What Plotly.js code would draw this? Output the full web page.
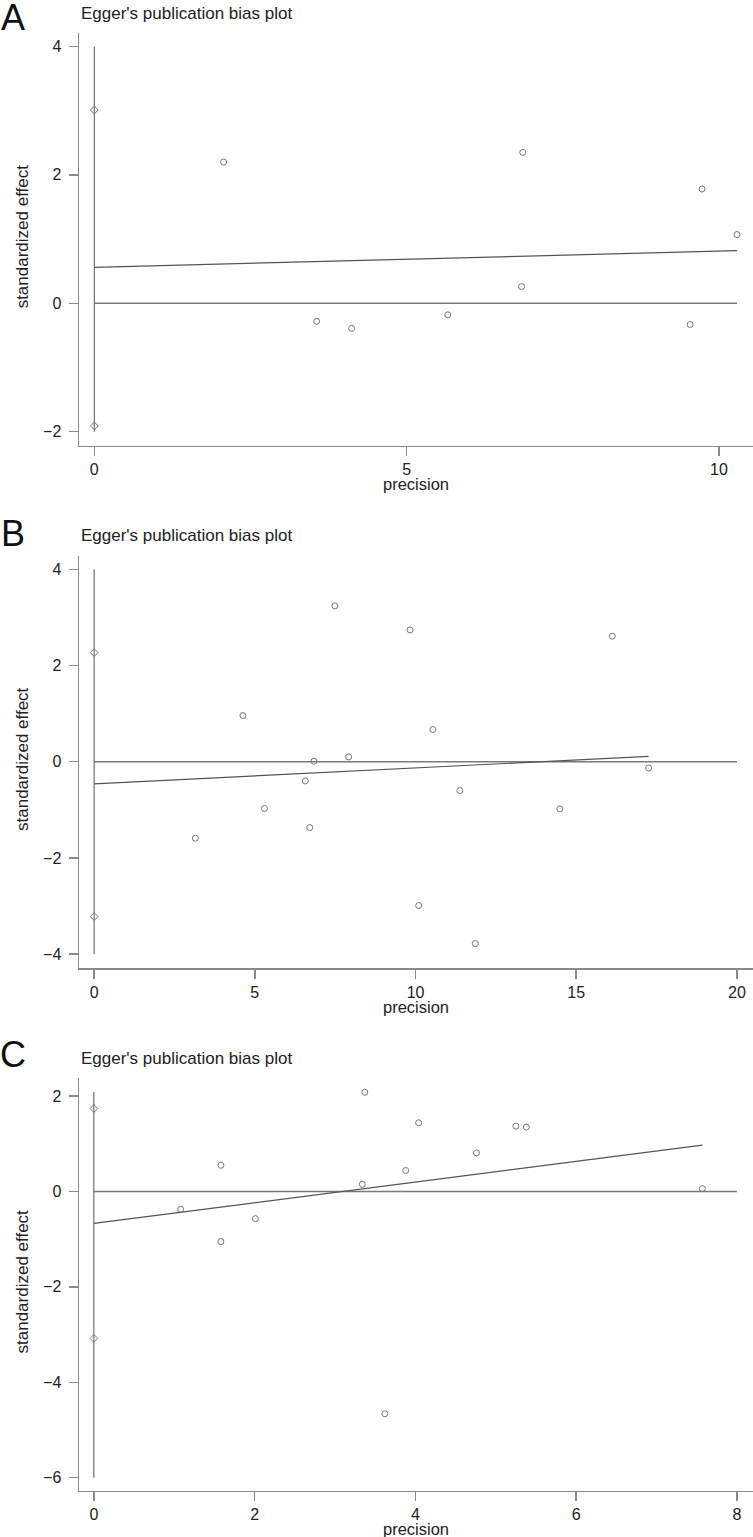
<script src="https://cdn.plot.ly/plotly-3.0.1.min.js"></script>
<style>
  html, body { margin: 0; padding: 0; background: white; }
</style>
<div id="eggerPlot" style="width:753px;height:1537px;"></div>

<script>
  // Panel A
  const aPrecision = [2.07, 3.56, 4.12, 5.66, 6.84, 6.86, 9.54, 9.73, 10.29];
  const aEffect = [2.20, -0.28, -0.39, -0.18, 0.26, 2.35, -0.33, 1.78, 1.07];
  const aCiLimits = [3.01, -1.91];
  const aCiLine = [4, -2];
  const aFitX = [0, 10.29];
  const aFitY = [0.56, 0.82];
  const aZeroX = [0, 10.29];

  // Panel B
  const bPrecision = [3.15, 4.63, 5.30, 6.57, 6.71, 6.84, 7.49, 7.92, 9.83, 10.10, 10.54, 11.38, 11.86, 14.49, 16.12, 17.25];
  const bEffect = [-1.59, 0.96, -0.97, -0.40, -1.37, 0.01, 3.24, 0.10, 2.74, -2.99, 0.67, -0.60, -3.78, -0.98, 2.61, -0.13];
  const bCiLimits = [2.27, -3.22];
  const bCiLine = [4, -4];
  const bFitX = [0, 17.25];
  const bFitY = [-0.46, 0.11];
  const bZeroX = [0, 20];

  // Panel C
  const cPrecision = [1.08, 1.58, 1.58, 2.01, 3.34, 3.37, 3.62, 3.88, 4.04, 4.76, 5.25, 5.38, 7.57];
  const cEffect = [-0.37, 0.55, -1.05, -0.57, 0.15, 2.08, -4.66, 0.44, 1.44, 0.81, 1.37, 1.35, 0.06];
  const cCiLimits = [1.74, -3.08];
  const cCiLine = [2.09, -6];
  const cFitX = [0, 7.57];
  const cFitY = [-0.67, 0.97];
  const cZeroX = [0, 8];

  const panelLetters = ['A', 'B', 'C'];
  const plotTitle = "Egger's publication bias plot";
  const xTitle = 'precision';
  const yTitle = 'standardized effect';

  const W = 753, H = 1537;
  const font = 'Liberation Sans, Arial, sans-serif';
  const axisGray = '#8a8a8a';

  // pixel boxes for each panel: [left, top, bottom]
  const boxes = [[79, 33, 445.7], [79, 555.7, 968.3], [79, 1078.3, 1490.7]];

  function panelTraces(n, px, eff, ciLim, ciLine, fitX, fitY, zeroX) {
    const sfx = n === 1 ? '' : String(n);
    const ax = { xaxis: 'x' + sfx, yaxis: 'y' + sfx, showlegend: false, hoverinfo: 'skip', cliponaxis: false };
    return [
      Object.assign({ x: zeroX, y: [0, 0], mode: 'lines', line: { color: '#7a7a7a', width: 1.5 } }, ax),
      Object.assign({ x: [0, 0], y: ciLine, mode: 'lines', line: { color: '#555', width: 1 } }, ax),
      Object.assign({ x: fitX, y: fitY, mode: 'lines', line: { color: '#555', width: 1.2 } }, ax),
      Object.assign({ x: [0, 0], y: ciLim, mode: 'markers',
        marker: { symbol: 'diamond-open', size: 6, color: '#777', line: { width: 1 } } }, ax),
      Object.assign({ x: px, y: eff, mode: 'markers',
        marker: { symbol: 'circle-open', size: 6, color: '#777', line: { width: 1 } } }, ax)
    ];
  }

  function makeX(range, tickvals, anchor) {
    return {
      range: range, domain: [79 / W, 1], anchor: anchor,
      tickvals: tickvals, ticks: 'outside', ticklen: 9, tickcolor: axisGray, tickwidth: 1.5,
      showline: true, linecolor: axisGray, linewidth: 1.5,
      showgrid: false, zeroline: false,
      tickfont: { family: font, size: 16, color: '#222' }
    };
  }

  function makeY(range, tickvals, box, anchor) {
    return {
      range: range, domain: [1 - box[2] / H, 1 - box[1] / H], anchor: anchor,
      tickvals: tickvals, ticks: 'outside', ticklen: 9, tickcolor: axisGray, tickwidth: 1.5,
      showline: true, linecolor: axisGray, linewidth: 1.5,
      showgrid: false, zeroline: false, ticklabelstandoff: 4,
      tickfont: { family: font, size: 16, color: '#222' }
    };
  }

  const data = [].concat(
    panelTraces(1, aPrecision, aEffect, aCiLimits, aCiLine, aFitX, aFitY, aZeroX),
    panelTraces(2, bPrecision, bEffect, bCiLimits, bCiLine, bFitX, bFitY, bZeroX),
    panelTraces(3, cPrecision, cEffect, cCiLimits, cCiLine, cFitX, cFitY, cZeroX)
  );

  const annotations = [];
  const letterY = [18, 533, 1054];
  boxes.forEach((b, i) => {
    annotations.push({ xref: 'paper', yref: 'paper', x: 13 / W, y: 1 - letterY[i] / H,
      xanchor: 'center', yanchor: 'middle', showarrow: false, text: panelLetters[i],
      font: { family: font, size: 36, color: '#111' } });
    annotations.push({ xref: 'paper', yref: 'paper', x: b[0] / W, y: 1 - (b[1] - 20) / H,
      xanchor: 'left', yanchor: 'middle', showarrow: false, text: plotTitle,
      font: { family: font, size: 17, color: '#222' } });
    annotations.push({ xref: 'paper', yref: 'paper', x: 416 / W, y: 1 - (b[2] + 38.5) / H,
      xanchor: 'center', yanchor: 'middle', showarrow: false, text: xTitle,
      font: { family: font, size: 16.5, color: '#222' } });
    annotations.push({ xref: 'paper', yref: 'paper', x: 22 / W, y: 1 - ((b[1] + b[2]) / 2 - 3) / H,
      xanchor: 'center', yanchor: 'middle', showarrow: false, text: yTitle, textangle: -90,
      font: { family: font, size: 17, color: '#222' } });
  });

  const layout = {
    width: W, height: H,
    margin: { l: 0, r: 0, t: 0, b: 0 },
    paper_bgcolor: 'white', plot_bgcolor: 'white',
    showlegend: false,
    xaxis: makeX([-0.245, 10.546], [0, 5, 10], 'y'),
    yaxis: makeY([-2.218, 4.21], [-2, 0, 2, 4], boxes[0], 'x'),
    xaxis2: makeX([-0.47, 20.5], [0, 5, 10, 15, 20], 'y2'),
    yaxis2: makeY([-4.295, 4.283], [-4, -2, 0, 2, 4], boxes[1], 'x2'),
    xaxis3: makeX([-0.185, 8.2], [0, 2, 4, 6, 8], 'y3'),
    yaxis3: makeY([-6.273, 2.373], [-6, -4, -2, 0, 2], boxes[2], 'x3'),
    annotations: annotations
  };

  Plotly.newPlot('eggerPlot', data, layout, { staticPlot: true });
</script>
